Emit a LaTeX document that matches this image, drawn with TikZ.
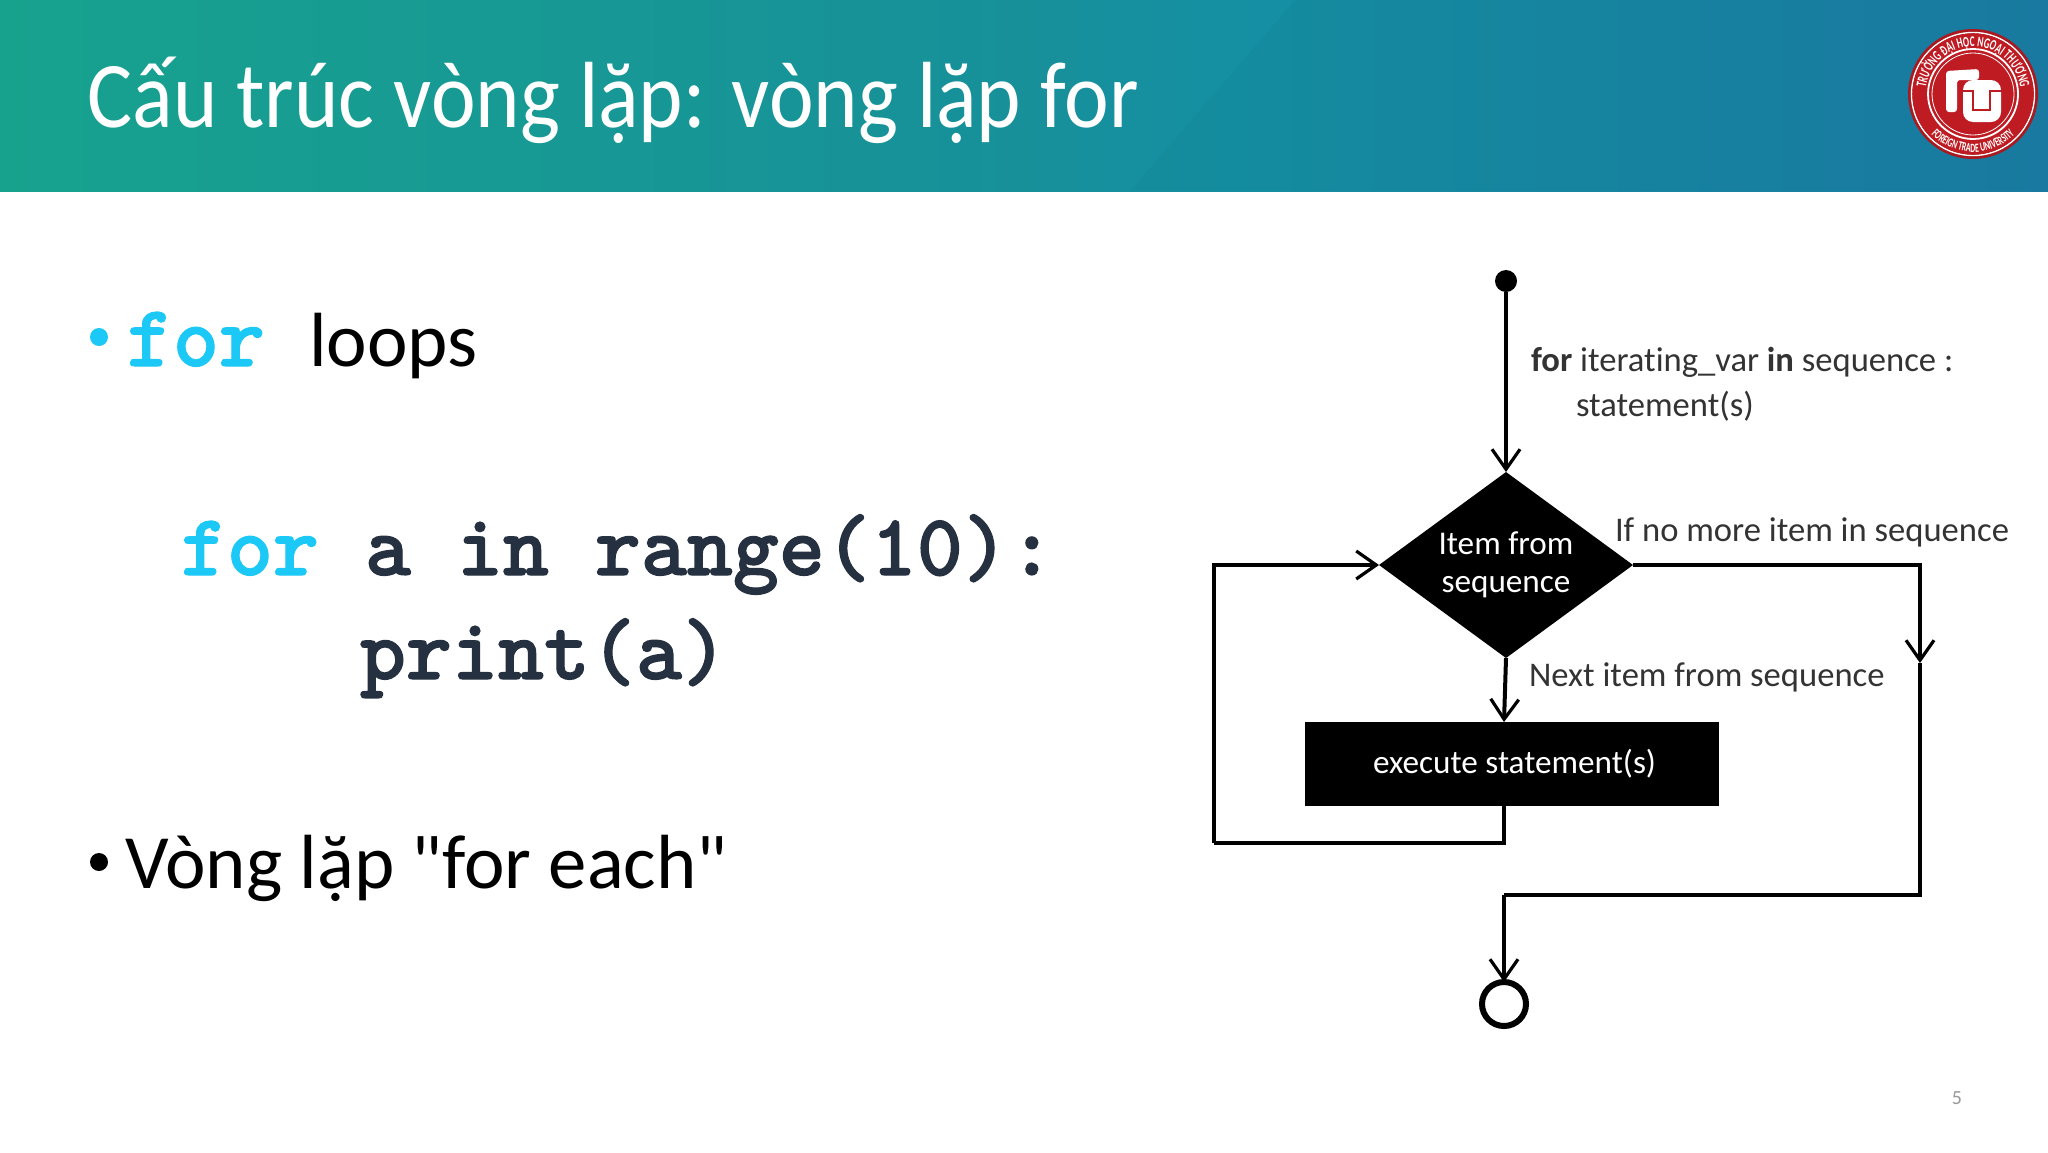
\documentclass[tikz,border=0pt]{standalone}
\usepackage{fontspec}
\setmainfont{Carlito}[Ligatures=NoCommon]
\newfontfamily\bodyfont{Carlito}[Ligatures=NoCommon]
\newfontfamily\titlefont{Carlito}[Ligatures=NoCommon,FakeStretch=.9]
\newfontfamily\codefont{Latin Modern Mono Light}[FakeBold=1.3]
\newfontfamily\logofont[FakeStretch=.62]{Carlito}
\usetikzlibrary{shapes.geometric,arrows.meta,decorations.text}
\definecolor{cyanbl}{HTML}{1CC8F5}
\definecolor{codedark}{HTML}{253040}
\definecolor{lbl}{HTML}{333333}
\definecolor{logored}{HTML}{BE1B22}
\definecolor{logodark}{HTML}{A81A20}
\definecolor{tealA}{HTML}{17A28E}
\definecolor{tealB}{HTML}{17909A}
\definecolor{tealC}{HTML}{1590A3}
\definecolor{tealD}{HTML}{1A7CA4}
\pgfdeclarehorizontalshading{headershade}{100bp}{
 color(0bp)=(tealA); color(25bp)=(tealA);
 color(50bp)=(tealB); color(55bp)=(tealC); color(75bp)=(tealD); color(100bp)=(tealD)}
\tikzset{
 flow/.style={line width=2pt,black,line join=miter},
 arr/.style={flow,-{Straight Barb[length=10pt,width=14pt,line width=1.6pt]}},
 lab/.style={anchor=base west,inner sep=0,outer sep=0,text=lbl,font=\bodyfont\fontsize{17.3}{20}\selectfont},
 wlab/.style={text=white,align=center,inner sep=0,outer sep=0,font=\bodyfont\fontsize{16.6}{19}\selectfont},
 body/.style={anchor=base west,inner sep=0,outer sep=0,font=\bodyfont\fontsize{38.4}{46}\selectfont},
 code/.style={anchor=base west,inner sep=0,outer sep=0,font=\codefont\bfseries\fontsize{43.8}{50}\selectfont,text=codedark},
}
\begin{document}
\begin{tikzpicture}[x=0.5pt,y=-0.5pt]
\useasboundingbox (0,0) rectangle (2048,1152);
\fill[white] (0,0) rectangle (2048,1152);
% header
\shade[shading=headershade] (0,0) rectangle (2048,191);
\fill[black,opacity=.025] (1130,191) -- (1295,0) -- (2048,0) -- (2048,191) -- cycle;
\node[anchor=base west,inner sep=0,text=white,font=\titlefont\fontsize{47}{56}\selectfont] (title) at (87,127) {Cấu trúc vòng lặp: vòng lặp for};
% logo
\begin{scope}[shift={(1973,94)},x=0.5pt,y=0.5pt]
 \fill[logodark] (0,0) circle (65);
 \draw[white,line width=.7pt] (0,0) circle (61.5);
 \fill[logored] (0,0) circle (60.5);
 \draw[white,line width=.9pt] (0,0) circle (45);
 \draw[white,line width=.4pt] (0,0) circle (41);
 \path[decorate,decoration={text along path,text align=center,
   text={|\color{white}\logofont\bfseries\fontsize{7.4}{8}\selectfont|TRƯỜNG ĐẠI HỌC NGOẠI THƯƠNG}}]
   (178:47.5) arc[start angle=178,end angle=2,radius=47.5];
 \path[decorate,decoration={text along path,text align=center,
   text={|\color{white}\logofont\bfseries\fontsize{6.3}{8}\selectfont|FOREIGN TRADE UNIVERSITY}}]
   (208:58) arc[start angle=208,end angle=332,radius=58];
\end{scope}
% FTU mark
\fill[white,rounded corners=1.5pt] (1946,71) -- (1979,69) -- (1979,80) -- (1957,80) -- (1957,112) -- (1946,112) -- cycle;
\fill[white,rounded corners=5pt] (1963,80) -- (2001,80) -- (2001,122) -- (1963,122) -- cycle;
\draw[logored,line width=1.1pt] (1962,91) -- (1973,91) -- (1973,110) -- (1990,110) -- (1990,91) -- (2002,91);
% left text
\fill[cyanbl] (99,337) circle (9);
\node[code,text=cyanbl] (t1) at (127,366) {for};
\node[body] (t2) at (309,366) {loops};
\node[code] (c1) at (181,575) {\textcolor{cyanbl}{for} a in range(10):};
\node[code] (c2) at (360,679) {print(a)};
\fill[black] (99,862) circle (9);
\node[body] (t3) at (125,888) {Vòng lặp "for each"};
% flowchart
\node[circle,fill=black,minimum size=11pt,inner sep=0,outer sep=0] (start) at (1506,281) {};
\node[diamond,shape aspect=1.35,fill=black,minimum width=127pt,minimum height=93pt,wlab] (dec) at (1506,565) {Item from\\sequence};
\node[rectangle,fill=black,minimum width=207pt,minimum height=42pt,wlab] (exec) at (1512,764) {\hspace*{2.5pt}execute statement(s)};
\node[circle,draw=black,line width=3pt,minimum size=22pt,inner sep=0,outer sep=0] (stop) at (1504,1004) {};
\coordinate (loopbl) at (1214,843);
\coordinate (loopbr) at (1504,843);
\coordinate (rightmid) at (1920,663);
\coordinate (rightbot) at (1920,895);
\coordinate (joinb) at (1504,895);
\coordinate (execin) at (1504,722);
\coordinate (execout) at (1504,806);
\draw[arr] (start) -- (dec.north);
\draw[arr] (dec.south) -- (execin);
\draw[flow] (execout) -- (loopbr) -- (loopbl);
\draw[arr] (loopbl) |- (dec.west);
\draw[arr] (dec.east) -| (rightmid);
\draw[flow] (rightmid) -- (rightbot) -- (joinb);
\draw[arr] (joinb) -- (stop.north);
\node[lab] (l1) at (1531,371) {\textbf{for} iterating\_var \textbf{in} sequence :};
\node[lab] (l2) at (1576,416) {statement(s)};
\node[lab] (l3) at (1615,541) {If no more item in sequence};
\node[lab] (l4) at (1529,686) {Next item from sequence};
\node[anchor=base,inner sep=0,text=gray!80,font=\bodyfont\fontsize{10}{12}\selectfont] (pg) at (1957,1104) {5};
\end{tikzpicture}
\end{document}
